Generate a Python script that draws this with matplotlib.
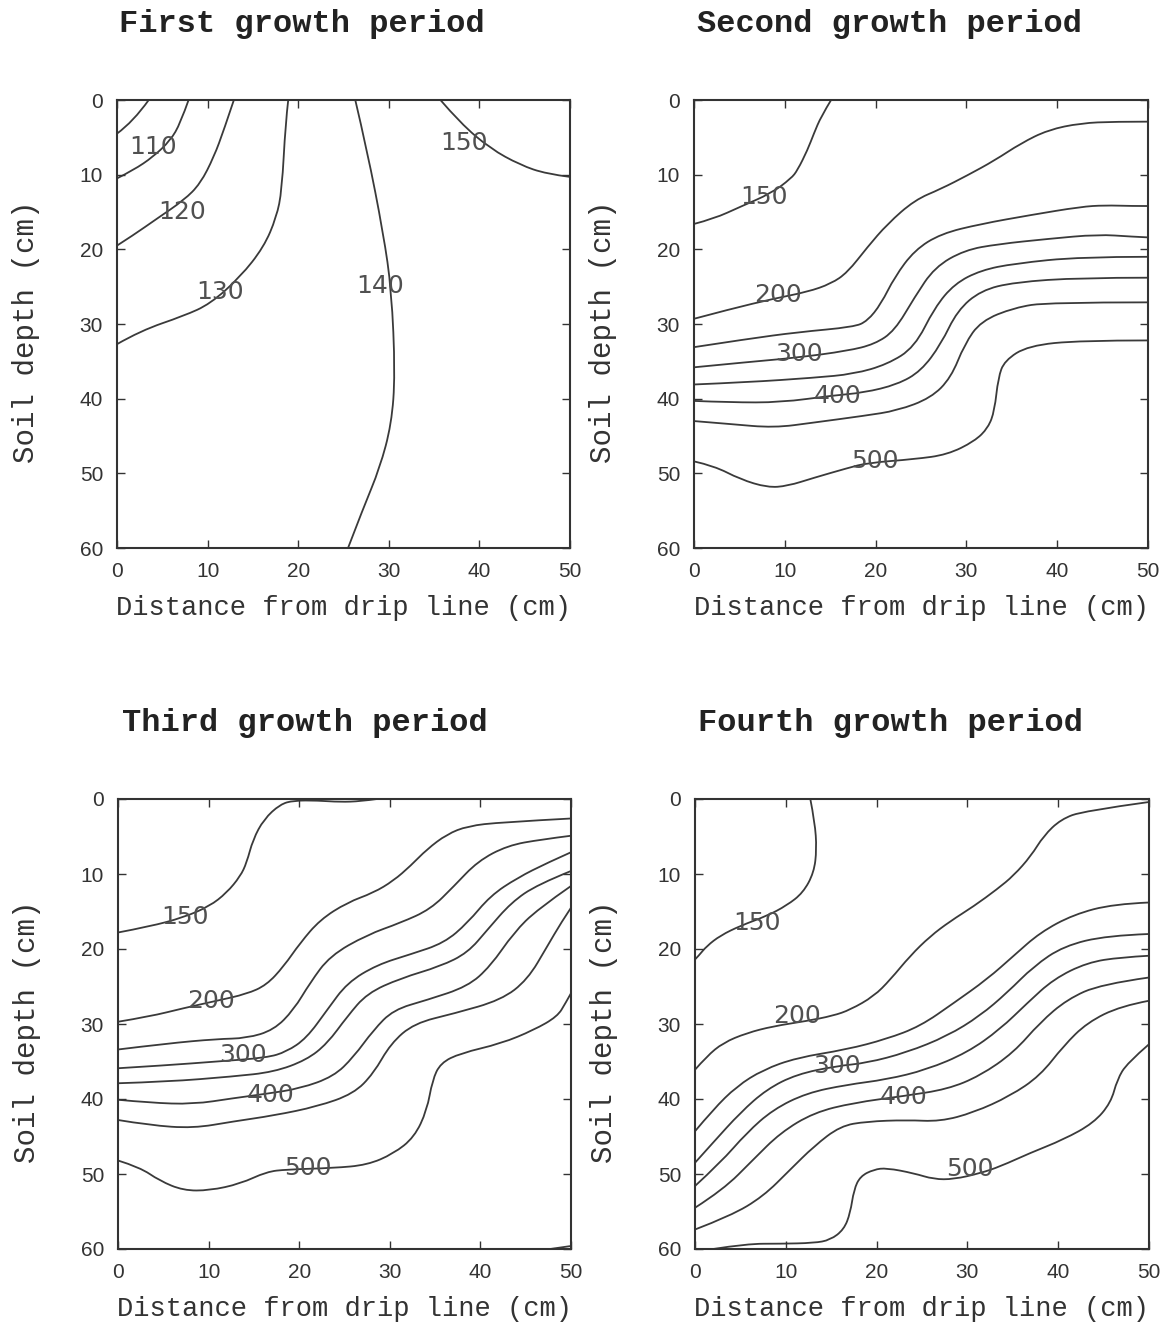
import matplotlib
matplotlib.use("Agg")
import matplotlib.pyplot as plt
from matplotlib.path import Path
from matplotlib.patches import PathPatch

# distance from drip line (cm) / soil depth (cm) pairs

# First growth period
P1_100 = ([0, 1.8, 3.5], [4.5, 2.9, 0])
P1_110 = ([0, 1.8, 4.0, 5.9, 7.0, 7.9], [10.5, 9.4, 7.6, 5.4, 3.1, 0])
P1_120 = ([0, 1.8, 4.4, 7.4, 9.2, 10.7, 11.8, 12.9], [19.5, 18.1, 15.9, 13.4, 11.2, 7.6, 4.0, 0])
P1_130 = ([0, 2.6, 7.4, 10.3, 13.6, 16.2, 17.6, 18.2, 18.6, 18.9],
          [32.7, 30.9, 28.9, 27.3, 23.7, 19.7, 15.7, 12.1, 3.1, 0])
P1_140 = ([26.3, 27.6, 29.4, 30.3, 30.7, 30.3, 29.0, 27.2, 25.5],
          [0, 6.7, 17.9, 25.5, 36.7, 43.4, 49.3, 54.6, 60])
P1_150 = ([35.7, 37.9, 41.2, 44.5, 47.4, 50], [0, 3.1, 6.5, 8.7, 9.9, 10.3])
P1_LABELS = [("110", 4.0, 6.3), ("120", 7.2, 15.0), ("130", 11.4, 25.7),
             ("140", 29.0, 24.9), ("150", 38.3, 5.8)]

# Second growth period
P2_150 = ([0, 2.2, 5.1, 8.5, 10.7, 11.4, 12.5, 13.2, 14.0, 15.1],
          [16.6, 15.9, 14.3, 12.5, 10.5, 9.4, 6.7, 4.5, 2.2, 0])
P2_200 = ([0, 4.0, 8.8, 12.5, 15.1, 16.9, 19.1, 21.3, 24.3, 27.2, 30.1, 33.1, 36.0, 39.0, 42.6, 46.3, 50],
          [29.3, 28.0, 26.6, 25.7, 24.6, 23.1, 19.7, 16.6, 13.4, 11.9, 10.1, 8.1, 5.8, 4.0, 3.1, 2.9, 2.9])
P2_250 = ([0, 5.9, 11.4, 17.6, 19.1, 20.6, 22.1, 24.3, 27.2, 31.6, 37.1, 42.6, 45.2, 48.2, 50],
          [33.1, 32.0, 31.1, 30.4, 29.6, 27.3, 23.7, 20.1, 17.9, 16.6, 15.4, 14.3, 14.1, 14.2, 14.2])
P2_300 = ([0, 5.9, 11.4, 16.9, 19.9, 22.1, 24.3, 26.5, 29.8, 33.5, 39.0, 44.5, 48.2, 50],
          [35.8, 35.1, 34.5, 33.6, 32.7, 30.9, 26.4, 22.4, 20.1, 19.3, 18.6, 18.0, 18.3, 18.4])
P2_350 = ([0, 5.9, 13.2, 17.6, 21.3, 24.3, 26.5, 28.7, 31.6, 35.3, 42.6, 50],
          [38.1, 37.8, 37.2, 36.7, 35.4, 33.1, 27.8, 24.6, 22.8, 21.9, 21.0, 21.0])
P2_400 = ([0, 4.0, 9.6, 15.1, 18.7, 22.4, 25.0, 27.2, 29.0, 31.6, 35.3, 42.6, 50],
          [40.3, 40.5, 40.5, 39.6, 39.2, 38.1, 36.3, 32.7, 28.2, 25.5, 24.4, 23.8, 23.8])
P2_450 = ([0, 4.0, 8.8, 13.2, 18.7, 22.4, 26.1, 28.3, 29.8, 31.6, 35.3, 39.0, 50],
          [43.0, 43.4, 43.9, 43.2, 42.3, 41.6, 39.9, 37.2, 32.7, 29.6, 27.8, 27.1, 27.1])
P2_500 = ([0, 2.2, 5.1, 8.1, 10.3, 13.2, 16.9, 19.1, 24.3, 27.9, 30.9, 32.4, 33.1, 33.5, 34.2, 36.8, 42.6, 50],
          [48.4, 49.0, 50.8, 51.9, 51.7, 50.6, 49.3, 48.6, 48.1, 47.5, 45.7, 43.9, 41.6, 37.2, 34.9, 32.9, 32.2, 32.2])
P2_LABELS = [("150", 7.7, 13.0), ("200", 9.2, 26.1), ("300", 11.6, 34.0),
             ("400", 15.8, 39.6), ("500", 19.9, 48.4)]

# Third growth period
P3_150 = ([0, 3.5, 7.2, 10.1, 12.0, 13.5, 14.2, 14.9, 16.1, 17.9, 19.4, 22.0, 24.5, 26.8, 28.6],
          [17.8, 17.0, 15.8, 14.3, 12.5, 10.3, 8.5, 5.4, 2.7, 0.7, 0.2, 0.2, 0.4, 0.3, 0])
P3_200 = ([0, 3.5, 7.2, 10.9, 14.2, 16.4, 18.3, 20.1, 22.3, 25.3, 28.2, 30.4, 32.3, 34.1, 36.3, 38.6, 42.3, 50],
          [29.7, 29.0, 27.9, 26.9, 26.0, 24.8, 22.3, 19.2, 16.1, 13.8, 12.5, 10.9, 8.9, 6.7, 4.7, 3.6, 3.1, 2.6])
P3_250 = ([0, 5.4, 10.9, 14.2, 17.2, 19.4, 21.2, 23.4, 27.5, 31.2, 34.5, 37.1, 39.7, 43.0, 46.7, 50],
          [33.4, 32.6, 32.0, 31.9, 30.8, 28.1, 24.5, 20.9, 18.1, 16.5, 14.7, 11.6, 8.3, 6.2, 5.4, 4.9])
P3_300 = ([0, 5.4, 10.9, 16.4, 18.6, 20.8, 23.1, 25.3, 28.6, 32.3, 36.0, 38.6, 41.1, 44.1, 47.4, 50],
          [35.9, 35.5, 35.0, 34.5, 33.7, 31.9, 28.1, 24.5, 22.1, 20.7, 19.2, 16.5, 12.9, 10.5, 8.5, 7.1])
P3_350 = ([0, 5.4, 12.7, 17.2, 20.8, 23.1, 25.3, 27.5, 31.2, 35.6, 38.6, 40.8, 43.4, 46.3, 50],
          [37.9, 37.7, 37.0, 36.4, 34.8, 32.6, 29.0, 25.9, 23.9, 22.3, 20.5, 17.4, 13.8, 11.4, 9.6])
P3_400 = ([0, 3.5, 8.3, 12.7, 16.4, 20.1, 23.8, 26.0, 28.2, 30.4, 34.1, 38.6, 41.1, 43.7, 46.3, 50],
          [40.1, 40.5, 40.7, 39.9, 39.3, 38.6, 37.0, 34.4, 30.8, 28.1, 26.8, 25.0, 22.3, 17.8, 14.7, 11.6])
P3_450 = ([0, 3.5, 8.3, 12.7, 17.2, 22.0, 26.0, 28.2, 30.1, 32.7, 37.1, 42.3, 45.2, 47.4, 48.9, 50],
          [42.8, 43.5, 43.9, 43.0, 42.2, 41.0, 39.3, 36.6, 32.6, 29.9, 28.6, 26.8, 24.1, 19.6, 16.5, 14.5])
P3_500 = ([0, 2.4, 4.6, 7.2, 10.1, 13.5, 16.4, 18.6, 23.8, 27.5, 30.4, 32.7, 34.1, 34.7, 35.6, 37.8,
           42.3, 45.9, 48.5, 49.4, 50],
          [48.2, 49.1, 50.9, 52.2, 52.2, 51.3, 49.7, 49.4, 49.2, 48.8, 47.3, 45.1, 41.5, 37.5, 35.2, 33.9,
           32.6, 30.8, 29.0, 27.2, 25.9])
P3_550 = ([47.7, 50], [60, 59.6])
P3_LABELS = [("150", 7.4, 15.8), ("200", 10.3, 26.9), ("300", 13.8, 34.1),
             ("400", 16.8, 39.5), ("500", 21.0, 49.2)]

# Fourth growth period
P4_150 = ([12.7, 13.2, 13.4, 13.1, 11.9, 10.1, 7.9, 5.0, 2.8, 1.3, 0.4, 0],
          [0, 3.1, 6.7, 9.8, 12.5, 14.2, 15.6, 16.9, 18.2, 19.6, 20.9, 21.4])
P4_200 = ([0, 1.3, 3.1, 5.7, 8.6, 12.3, 15.2, 17.1, 19.7, 21.5, 23.7, 25.9, 28.1, 30.7, 33.3, 35.1,
           37.0, 38.4, 40.3, 42.8, 50],
          [36.1, 34.3, 32.5, 31.2, 30.3, 29.6, 28.9, 28.1, 26.3, 24.1, 20.9, 18.3, 16.3, 14.3, 12.0, 10.2,
           7.6, 4.9, 2.7, 1.6, 0.4])
P4_250 = ([0, 2.0, 4.6, 7.5, 11.2, 16.7, 21.1, 24.8, 28.5, 32.2, 35.1, 38.0, 41.7, 46.1, 50],
          [44.3, 41.4, 38.3, 36.1, 34.5, 33.4, 32.0, 30.3, 27.2, 24.0, 20.9, 17.8, 15.4, 14.0, 13.8])
P4_300 = ([0, 2.0, 5.0, 7.9, 11.2, 15.6, 18.9, 23.3, 27.8, 31.4, 34.4, 37.3, 40.6, 45.4, 50],
          [48.5, 45.8, 41.8, 38.7, 36.7, 35.6, 35.2, 33.8, 31.6, 28.9, 25.8, 22.3, 19.6, 18.2, 18.0])
P4_350 = ([0, 2.8, 5.7, 8.6, 12.3, 16.7, 21.1, 25.5, 30.0, 33.6, 36.6, 39.5, 43.2, 46.9, 50],
          [51.6, 48.5, 44.5, 41.4, 39.2, 38.1, 37.4, 36.1, 33.8, 30.7, 27.2, 24.0, 21.8, 21.1, 20.9])
P4_400 = ([0, 3.1, 6.4, 9.4, 13.1, 17.5, 23.0, 27.8, 31.4, 35.1, 38.0, 41.0, 44.7, 50],
          [54.5, 52.1, 48.1, 44.5, 41.8, 40.5, 39.6, 38.7, 36.9, 33.8, 29.8, 26.7, 24.7, 23.8])
P4_450 = ([0, 3.9, 7.5, 10.5, 13.1, 16.0, 18.9, 23.3, 27.0, 30.7, 34.7, 38.0, 40.6, 43.2, 46.9, 50],
          [57.4, 55.6, 53.0, 49.4, 46.3, 43.6, 43.0, 42.8, 43.0, 41.8, 39.6, 36.9, 32.9, 29.8, 27.6, 26.9])
P4_500 = ([2.0, 5.7, 9.4, 13.1, 14.9, 16.4, 17.1, 17.5, 18.2, 19.7, 21.1, 24.1, 26.3, 28.5, 31.4, 33.6,
           36.9, 40.6, 43.9, 45.8, 46.5, 47.6, 50],
          [60, 59.3, 59.3, 59.2, 58.8, 57.4, 55.2, 52.1, 50.3, 49.4, 49.2, 49.9, 50.7, 50.7, 49.9, 49.0,
           47.2, 45.4, 43.2, 40.5, 37.4, 35.2, 32.7])
P4_LABELS = [("150", 6.8, 16.5), ("200", 11.2, 28.9), ("300", 15.6, 35.6),
             ("400", 23.0, 39.7), ("500", 30.3, 49.3)]

TITLES = ["First growth period", "Second growth period",
          "Third growth period", "Fourth growth period"]
X_TICKS = [0, 10, 20, 30, 40, 50]
Y_TICKS = [0, 10, 20, 30, 40, 50, 60]

panels = [
    ([P1_100, P1_110, P1_120, P1_130, P1_140, P1_150], P1_LABELS),
    ([P2_150, P2_200, P2_250, P2_300, P2_350, P2_400, P2_450, P2_500], P2_LABELS),
    ([P3_150, P3_200, P3_250, P3_300, P3_350, P3_400, P3_450, P3_500, P3_550], P3_LABELS),
    ([P4_150, P4_200, P4_250, P4_300, P4_350, P4_400, P4_450, P4_500], P4_LABELS),
]


# traced points used as quadratic bezier controls so the contour reads smooth
def smooth_path(xs, ds):
    pts = list(zip(xs, ds))
    if len(pts) < 3:
        return Path(pts)
    verts = [pts[0]]
    codes = [Path.MOVETO]
    for i in range(1, len(pts) - 1):
        mid = ((pts[i][0] + pts[i + 1][0]) / 2, (pts[i][1] + pts[i + 1][1]) / 2)
        if i == len(pts) - 2:
            mid = pts[-1]
        verts += [pts[i], mid]
        codes += [Path.CURVE3, Path.CURVE3]
    return Path(verts, codes)


W, H = 1165, 1323
fig = plt.figure(figsize=(W / 100, H / 100), dpi=100)

# axes boxes in pixels: left, top, right, bottom
boxes = [(117, 100, 570, 548), (694, 100, 1148, 548),
         (118, 799, 571, 1249), (695, 799, 1149, 1249)]
title_pos = [(302, 24), (889, 24), (305, 723), (890, 723)]

ink = "#333333"
for (lines, labels), (l, t, r, b), title, (tx, ty) in zip(panels, boxes, TITLES, title_pos):
    ax = fig.add_axes([l / W, 1 - b / H, (r - l) / W, (b - t) / H])
    for xs, ds in lines:
        ax.add_patch(PathPatch(smooth_path(xs, ds), fill=False,
                               edgecolor="#3a3a3a", lw=1.3))
    for txt, x, d in labels:
        ax.text(x, d, txt, ha="center", va="center", fontsize=18,
                family="DejaVu Sans", color="#505050")
    ax.set_xlim(0, 50)
    ax.set_ylim(60, 0)
    ax.set_xticks(X_TICKS)
    ax.set_yticks(Y_TICKS)
    ax.tick_params(direction="in", top=True, right=True, length=6, width=1,
                   color=ink, labelsize=15, labelcolor=ink, pad=10)
    for lab in ax.get_xticklabels() + ax.get_yticklabels():
        lab.set_family("Liberation Sans")
    for sp in ax.spines.values():
        sp.set_linewidth(1.5)
        sp.set_color(ink)

    fig.text(tx / W, 1 - ty / H, title, ha="center", va="center",
             family="Liberation Mono", weight="bold", fontsize=23, color="#222222")
    fig.text((l + r) / 2 / W, 1 - (b + 60) / H, "Distance from drip line (cm)",
             ha="center", va="center", family="Liberation Mono", fontsize=19.5, color=ink)
    fig.text((l - 91) / W, 1 - ((t + b) / 2 + 8) / H, "Soil depth (cm)", rotation=90,
             ha="center", va="center", family="Liberation Mono", fontsize=21, color=ink)

fig.savefig("out.png", dpi=100, facecolor="white")
